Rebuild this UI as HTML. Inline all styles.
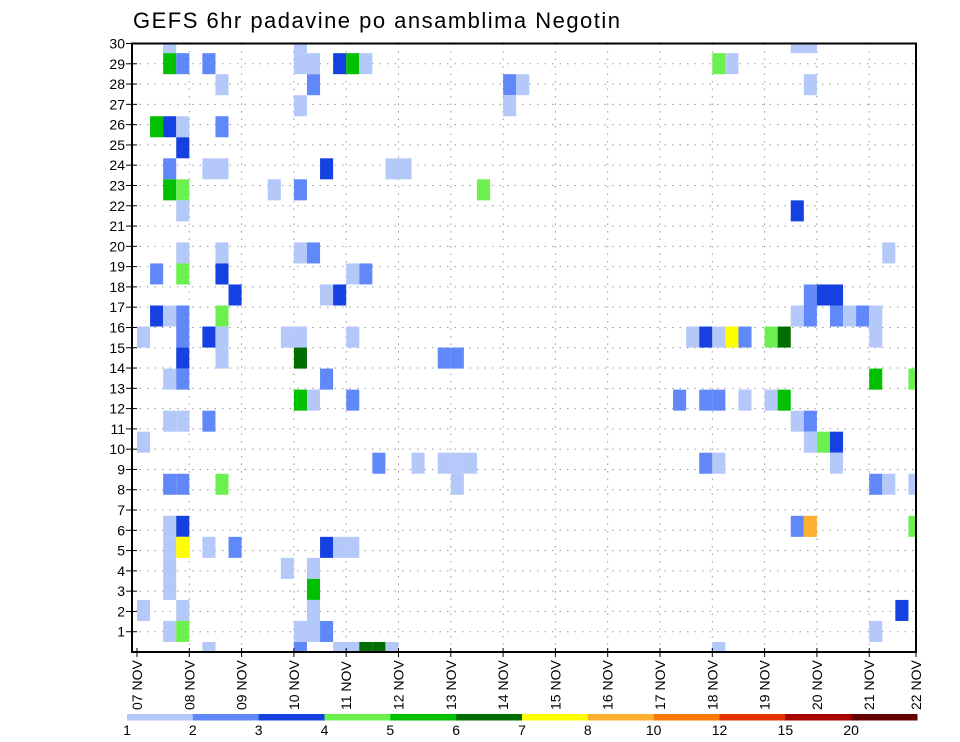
<!DOCTYPE html>
<html><head><meta charset="utf-8"><style>
html,body{margin:0;padding:0;background:#fff;}
svg{display:block;font-family:"Liberation Sans",sans-serif;}
</style></head><body>
<svg id="chart" width="960" height="742" viewBox="0 0 960 742" xmlns="http://www.w3.org/2000/svg">
<defs><clipPath id="plotclip"><rect x="132" y="43.5" width="784" height="608.5"/></clipPath></defs>
<text x="133" y="28" font-size="22" textLength="487" fill="#000">GEFS 6hr padavine po ansamblima Negotin</text>
<g id="grid"></g>
<g id="cells" clip-path="url(#plotclip)"></g>
<g id="axes"></g>
<g id="legend"></g>
</svg>
<script>
const thresholds = [1,2,3,4,5,6,7,8,10,12,15,20];
const colors = ["#b4c8fa","#6088f8","#1441e0","#6cf050","#00c000","#006e00","#ffff00","#fbb030","#fa7800","#e63200","#a80000","#640000"];
const dayLabels = ["07 NOV","08 NOV","09 NOV","10 NOV","11 NOV","12 NOV","13 NOV","14 NOV","15 NOV","16 NOV","17 NOV","18 NOV","19 NOV","20 NOV","21 NOV","22 NOV"];
const rowLabels = [1,2,3,4,5,6,7,8,9,10,11,12,13,14,15,16,17,18,19,20,21,22,23,24,25,26,27,28,29,30];
// cells: [6h step index, ensemble band, precip mm]
const cells = [
[2,29,1.5],[12,29,1.5],[50,29,1.5],[51,29,1.5],
[2,28,5.5],[3,28,2.5],[5,28,2.5],[12,28,1.5],[13,28,1.5],[15,28,3.5],[16,28,5.5],[17,28,1.5],[44,28,4.5],[45,28,1.5],
[6,27,1.5],[13,27,2.5],[28,27,2.5],[29,27,1.5],[51,27,1.5],
[12,26,1.5],[28,26,1.5],
[1,25,5.5],[2,25,3.5],[3,25,1.5],[6,25,2.5],
[3,24,3.5],
[2,23,2.5],[5,23,1.5],[6,23,1.5],[14,23,3.5],[19,23,1.5],[20,23,1.5],
[2,22,5.5],[3,22,4.5],[10,22,1.5],[12,22,2.5],[26,22,4.5],
[3,21,1.5],[50,21,3.5],
[3,19,1.5],[6,19,1.5],[12,19,1.5],[13,19,2.5],[57,19,1.5],
[1,18,2.5],[3,18,4.5],[6,18,3.5],[16,18,1.5],[17,18,2.5],
[7,17,3.5],[14,17,1.5],[15,17,3.5],[51,17,2.5],[52,17,3.5],[53,17,3.5],
[1,16,3.5],[2,16,1.5],[3,16,2.5],[6,16,4.5],[50,16,1.5],[51,16,2.5],[53,16,2.5],[54,16,1.5],[55,16,2.5],[56,16,1.5],
[0,15,1.5],[3,15,2.5],[5,15,3.5],[6,15,1.5],[11,15,1.5],[12,15,1.5],[16,15,1.5],[42,15,1.5],[43,15,3.5],[44,15,1.5],[45,15,7.5],[46,15,2.5],[48,15,4.5],[49,15,6.5],[56,15,1.5],
[3,14,3.5],[6,14,1.5],[12,14,6.5],[23,14,2.5],[24,14,2.5],
[2,13,1.5],[3,13,2.5],[14,13,2.5],[56,13,5.5],[59,13,4.5],
[12,12,5.5],[13,12,1.5],[16,12,2.5],[41,12,2.5],[43,12,2.5],[44,12,2.5],[46,12,1.5],[48,12,1.5],[49,12,5.5],
[2,11,1.5],[3,11,1.5],[5,11,2.5],[50,11,1.5],[51,11,2.5],
[0,10,1.5],[51,10,1.5],[52,10,4.5],[53,10,3.5],
[18,9,2.5],[21,9,1.5],[23,9,1.5],[24,9,1.5],[25,9,1.5],[43,9,2.5],[44,9,1.5],[53,9,1.5],
[2,8,2.5],[3,8,2.5],[6,8,4.5],[24,8,1.5],[56,8,2.5],[57,8,1.5],[59,8,1.5],
[2,6,1.5],[3,6,3.5],[50,6,2.5],[51,6,9],[59,6,4.5],
[2,5,1.5],[3,5,7.5],[5,5,1.5],[7,5,2.5],[14,5,3.5],[15,5,1.5],[16,5,1.5],
[2,4,1.5],[11,4,1.5],[13,4,1.5],
[2,3,1.5],[13,3,5.5],
[0,2,1.5],[3,2,1.5],[13,2,1.5],[58,2,3.5],
[2,1,1.5],[3,1,4.5],[12,1,1.5],[13,1,1.5],[14,1,2.5],[56,1,1.5],
[5,0,1.5],[12,0,2.5],[15,0,1.5],[16,0,1.5],[17,0,6.5],[18,0,6.5],[19,0,1.5],[44,0,1.5]
];
const NS="http://www.w3.org/2000/svg";
function mk(tag,attrs,parent){const e=document.createElementNS(NS,tag);for(const k in attrs)e.setAttribute(k,attrs[k]);parent.appendChild(e);return e;}
const L=132,R=916,T=43.5,B=652;
const dayW=52.3, x0=137, stepW=dayW/4;
const xDay=d=>x0+d*dayW;
const xStep=s=>x0+s*stepW;
const bandH=21.03;
const yBand=b=>652.5-b*bandH;
const yRow=r=>B-r*(B-T)/30;
function colorFor(v){let i=-1;for(let j=0;j<thresholds.length;j++){if(v>=thresholds[j])i=j;}return i<0?null:colors[i];}
const grid=document.getElementById('grid');
for(let r=1;r<=30;r++){const y=yRow(r);const l=mk('line',{x1:L,x2:R,y1:y,y2:y,stroke:'#999','stroke-width':1,'stroke-dasharray':'1.5,6'},grid);

}
for(let d=1;d<15;d++){const x=xDay(d);const l=mk('line',{x1:x,x2:x,y1:T,y2:B,stroke:'#999','stroke-width':1,'stroke-dasharray':'1.5,6'},grid);

}
const cg=document.getElementById('cells');
cells.forEach(c=>{const col=colorFor(c[2]);if(!col)return;
const r=mk('rect',{x:xStep(c[0]),y:yBand(c[1])-bandH/2,width:stepW,height:bandH,fill:col},cg);

});
const ax=document.getElementById('axes');
const box=mk('rect',{x:L,y:T,width:R-L,height:B-T,fill:'none',stroke:'#000','stroke-width':2},ax);


rowLabels.forEach(r=>{const y=yRow(r);
mk('line',{x1:L-6,x2:L+5,y1:y,y2:y,stroke:'#000','stroke-width':1},ax);
const t=mk('text',{x:L-7,y:y+5,'font-size':14,'text-anchor':'end',fill:'#000'},ax);t.textContent=r;

});
dayLabels.forEach((lab,d)=>{const x=Math.min(xDay(d),R);
mk('line',{x1:x,x2:x,y1:B-4,y2:B+5,stroke:'#000','stroke-width':1},ax);
const t=mk('text',{x:0,y:0,'font-size':14,'text-anchor':'start',transform:`translate(${x+5},710) rotate(-90)`,fill:'#000'},ax);t.textContent=lab;

});
const lg=document.getElementById('legend');
const segW=(917-127)/thresholds.length;
thresholds.forEach((th,i)=>{const r=mk('rect',{x:127+i*segW,y:714,width:segW+0.5,height:6.5,fill:colors[i]},lg);


const t=mk('text',{x:127+i*segW,y:735,'font-size':14,'text-anchor':'middle',fill:'#000'},lg);t.textContent=th;

});
</script>
</body></html>
